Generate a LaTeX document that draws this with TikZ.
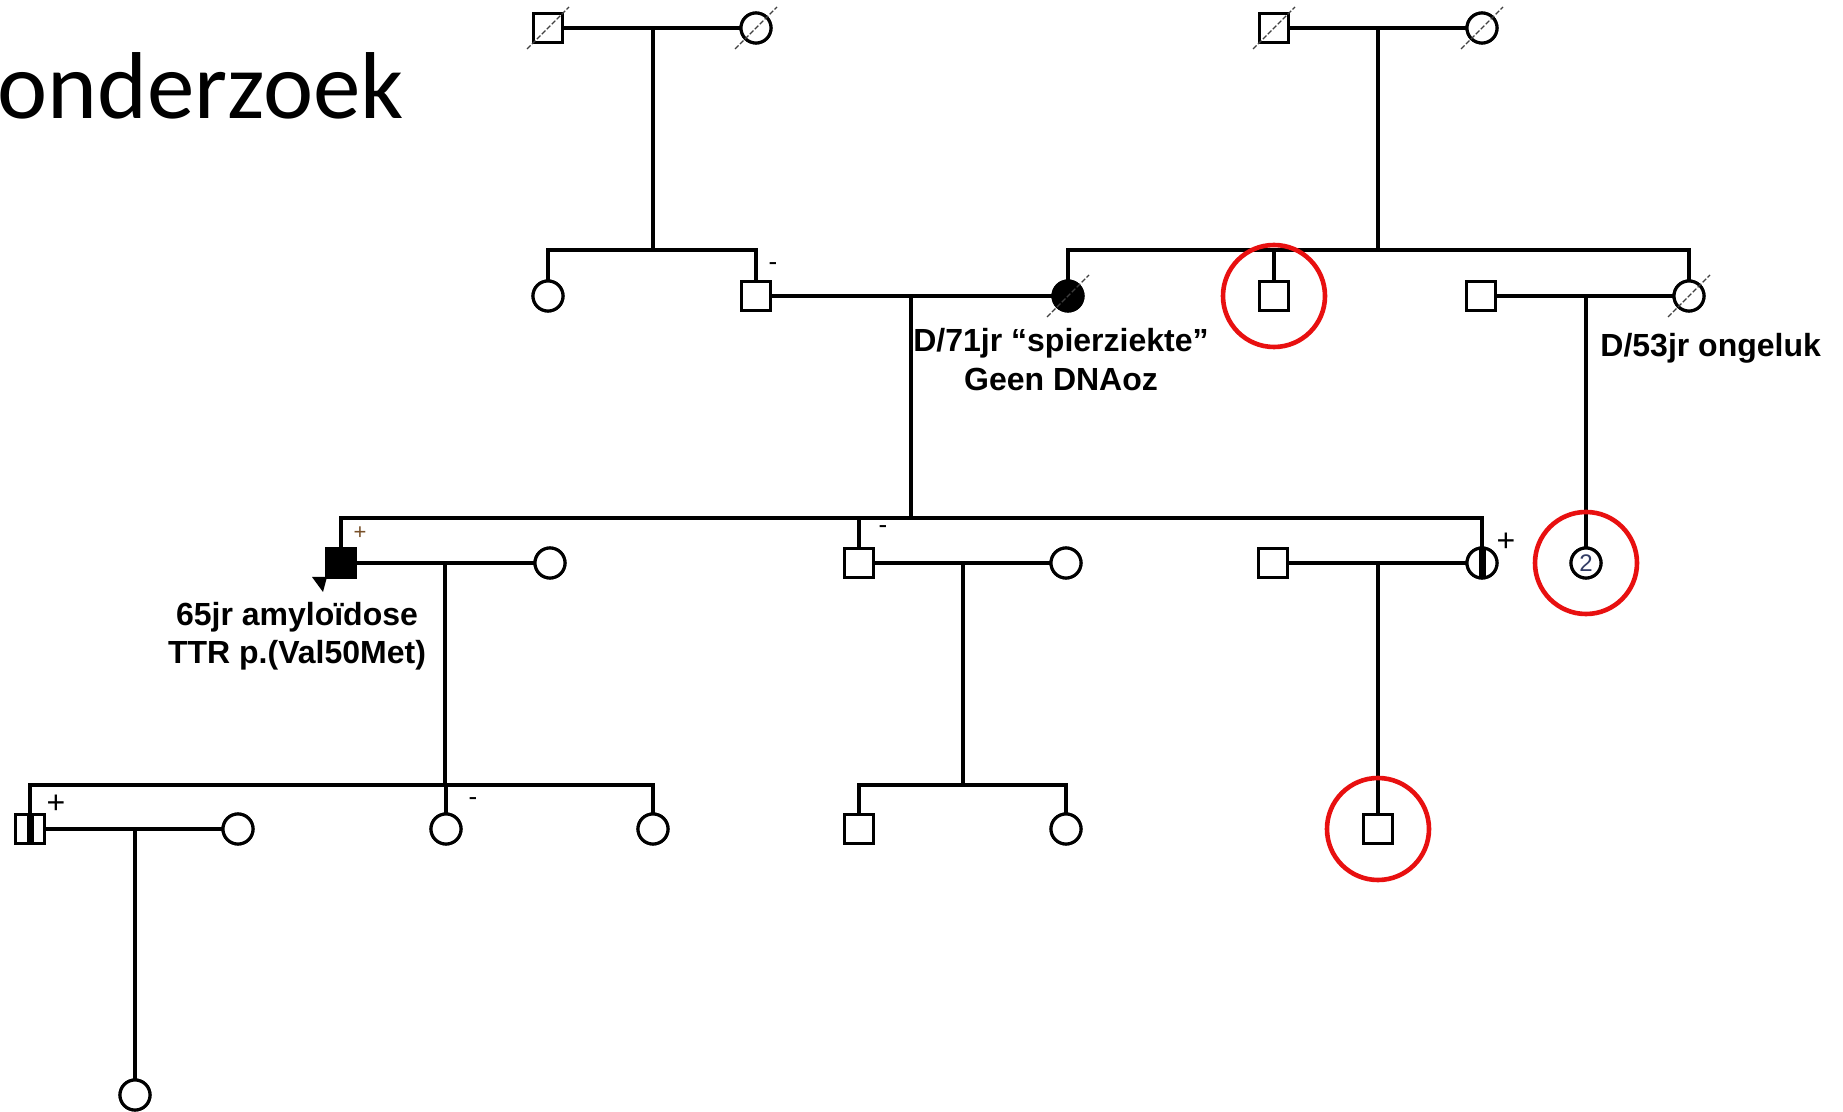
\documentclass[tikz,border=0pt]{standalone}
\usepackage{fontspec}
\setmainfont{Liberation Sans}
\newfontfamily\titlefont{Carlito}
\definecolor{hlred}{RGB}{232,16,16}
\definecolor{twoc}{RGB}{50,60,100}
\definecolor{plusc}{RGB}{120,80,40}
\tikzset{
  ln/.style={line width=1.55pt},
  pers/.style={draw, line width=1.55pt, fill=white, inner sep=0pt, outer sep=0pt},
  sq/.style={pers, rectangle, minimum size=14.6pt},
  ci/.style={pers, circle, minimum size=15pt},
  aff/.style={fill=black},
  carr/.style={path picture={\fill[black] ([xshift=-1.75pt]path picture bounding box.north) rectangle ([xshift=1.75pt]path picture bounding box.south);}},
  slash/.style={line width=0.6pt, black!75, dash pattern=on 2.5pt off 1pt},
  hl/.style={draw=hlred, circle, line width=2.3pt, minimum size=51pt, inner sep=0pt},
  lab/.style={font=\fontsize{16pt}{19pt}\selectfont\bfseries, inner sep=0pt, anchor=base},
  mk/.style={font=\fontsize{13pt}{13pt}\selectfont, inner sep=0pt},
  mkb/.style={font=\fontsize{16pt}{16pt}\selectfont, inner sep=0pt},
}
\begin{document}
\begin{tikzpicture}[x=0.5pt, y=-0.5pt]
\useasboundingbox[fill=white] (0,0) rectangle (1843,1112);

% title
\node[font=\titlefont\fontsize{47.5pt}{50pt}\selectfont, anchor=base west, inner sep=0pt] (title) at (-3,119) {onderzoek};

% generation 1
\node[sq] (g1a) at (548,28) {};
\node[ci] (g1b) at (756,28) {};
\node[sq] (g1c) at (1274,28) {};
\node[ci] (g1d) at (1482,28) {};

% generation 2
\node[ci] (g2a) at (548,296) {};
\node[sq] (g2b) at (756,296) {};
\node[ci, aff] (g2c) at (1068,296) {};
\node[sq] (g2d) at (1274,296) {};
\node[sq] (g2e) at (1481,296) {};
\node[ci] (g2f) at (1689,296) {};

% generation 3
\node[sq, aff] (g3a) at (341,563) {};
\node[ci] (g3b) at (550,563) {};
\node[sq] (g3c) at (859,563) {};
\node[ci] (g3d) at (1066,563) {};
\node[sq] (g3e) at (1273,563) {};
\node[ci, carr] (g3f) at (1482,563) {};
\node[ci, font=\fontsize{12pt}{12pt}\selectfont, text=twoc] (g3g) at (1586,563) {2};

% generation 4
\node[sq, carr] (g4a) at (30,829) {};
\node[ci] (g4b) at (238,829) {};
\node[ci] (g4c) at (446,829) {};
\node[ci] (g4d) at (653,829) {};
\node[sq] (g4e) at (859,829) {};
\node[ci] (g4g) at (1066,829) {};
\node[sq] (g4f) at (1378,829) {};

% generation 5
\node[ci] (g5a) at (135,1095) {};

% junction coordinates
\coordinate (c1) at (653,28);  \coordinate (s1) at (653,250);
\coordinate (c2) at (1378,28); \coordinate (s2) at (1378,250);
\coordinate (c3) at (911,296); \coordinate (s3) at (911,518);
\coordinate (c4) at (1586,296);
\coordinate (c5) at (445,563); \coordinate (s5) at (445,785);
\coordinate (c6) at (963,563); \coordinate (s6) at (963,785);
\coordinate (c7) at (1378,563);
\coordinate (c8) at (135,829);

% connectors
\begin{scope}[ln]
\draw (g1a) -- (g1b);
\draw (c1) -- (s1);
\draw (g2a) |- (s1) -| (g2b);
\draw (g1c) -- (g1d);
\draw (c2) -- (s2);
\draw (g2c) |- (s2) -| (g2f);
\draw (g2d) -- (g2d |- s2);
\draw (g2b) -- (g2c);
\draw (c3) -- (s3);
\draw (g3a) |- (s3) -| (g3f);
\draw (g3c) -- (g3c |- s3);
\draw (g2e) -- (g2f);
\draw (c4) -- (g3g);
\draw (g3a) -- (g3b);
\draw (c5) -- (s5);
\draw (g4a) |- (s5) -| (g4d);
\draw (g4c) -- (g4c |- s5);
\draw (g3c) -- (g3d);
\draw (c6) -- (s6);
\draw (g4e) |- (s6) -| (g4g);
\draw (g3e) -- (g3f);
\draw (c7) -- (g4f);
\draw (g4a) -- (g4b);
\draw (c8) -- (g5a);
\end{scope}

% redraw symbols on top of lines
\foreach \n in {g1a,g1c,g2b,g2d,g2e,g3c,g3e,g4e,g4f}{\node[sq] at (\n) {};}
\foreach \n in {g1b,g1d,g2a,g2f,g3b,g3d,g4b,g4c,g4d,g4g,g5a}{\node[ci] at (\n) {};}
\node[sq, aff] at (g3a) {};
\node[ci, aff] at (g2c) {};
\node[ci, carr] at (g3f) {};
\node[sq, carr] at (g4a) {};
\node[ci, font=\fontsize{12pt}{12pt}\selectfont, text=twoc] at (g3g) {2};

% deceased slashes
\foreach \n in {g1a,g1b,g1c,g1d,g2c,g2f}{\draw[slash] (\n) ++(-21,21) -- ++(42,-42);}

% proband arrow
\fill (g3a) ++(-29,14) -- ++(15,0) -- ++(-4,15) -- cycle;

% test markers
\node[mk, font=\fontsize{11pt}{11pt}\selectfont, text=plusc] (p1) at (360,533) {+};
\node[mk] (m1) at (773,267) {-};
\node[mk] (m2) at (883,530) {-};
\node[mk] (m3) at (473,802) {-};
\node[mkb] (p2) at (1506,542) {+};
\node[mkb] (p3) at (56,804) {+};

% labels
\node[lab] (l1a) at (1061,352) {D/71jr “spierziekte”};
\node[lab] (l1b) at (1061,391) {Geen DNAoz};
\node[lab, anchor=base west] (l2) at (1600,357) {D/53jr ongeluk};
\node[lab] (l3a) at (297,625) {65jr amyloïdose};
\node[lab] (l3b) at (297,663) {TTR p.(Val50Met)};

% red highlight circles
\node[hl] (r1) at (g2d) {};
\node[hl] (r2) at (g3g) {};
\node[hl] (r3) at (g4f) {};
\end{tikzpicture}
\end{document}
